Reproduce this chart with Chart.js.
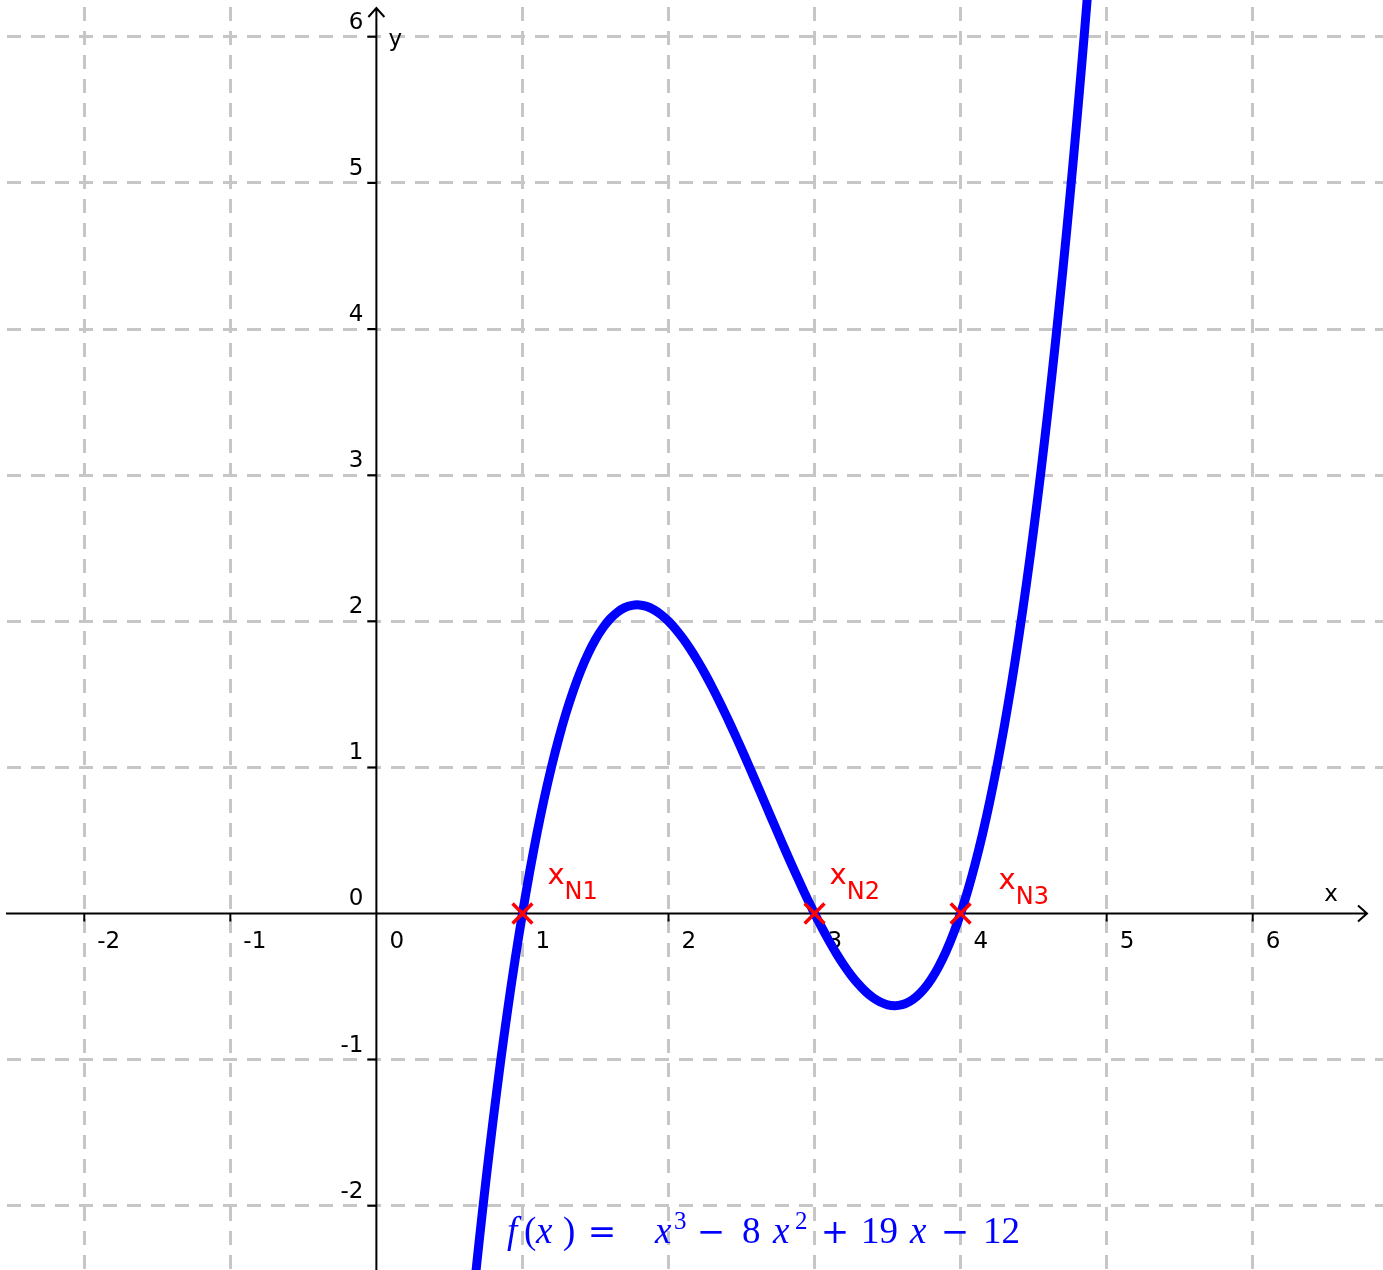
<!DOCTYPE html>
<html>
<head>
<meta charset="utf-8">
<script src="https://cdn.jsdelivr.net/npm/chart.js@4.4.0/dist/chart.umd.min.js"></script>
<style>
  html, body { margin: 0; padding: 0; background: #fff; }
  #wrap { position: relative; width: 1383px; height: 1270px; }
</style>
</head>
<body>
<div id="wrap"><canvas id="plot"></canvas></div>
<script>
const curveX = [0.6, 0.65, 0.7, 0.75, 0.8, 0.85, 0.9, 0.95, 1.0, 1.05, 1.1, 1.15, 1.2, 1.25,
  1.3, 1.35, 1.4, 1.45, 1.5, 1.55, 1.6, 1.65, 1.7, 1.75, 1.8, 1.85, 1.9, 1.95, 2.0, 2.05,
  2.1, 2.15, 2.2, 2.25, 2.3, 2.35, 2.4, 2.45, 2.5, 2.55, 2.6, 2.65, 2.7, 2.75, 2.8, 2.85,
  2.9, 2.95, 3.0, 3.05, 3.1, 3.15, 3.2, 3.25, 3.3, 3.35, 3.4, 3.45, 3.5, 3.55, 3.6, 3.65,
  3.7, 3.75, 3.8, 3.85, 3.9, 3.95, 4.0, 4.05, 4.1, 4.15, 4.2, 4.25, 4.3, 4.35, 4.4, 4.45,
  4.5, 4.55, 4.6, 4.65, 4.7, 4.75, 4.8, 4.85, 4.9];
const curveY = [-3.264, -2.755, -2.277, -1.828, -1.408, -1.016, -0.651, -0.313, 0, 0.288, 0.551, 0.791, 1.008, 1.203,
  1.377, 1.530, 1.664, 1.779, 1.875, 1.954, 2.016, 2.062, 2.093, 2.109, 2.112, 2.102, 2.079, 2.045, 2.000, 1.945,
  1.881, 1.808, 1.728, 1.641, 1.547, 1.448, 1.344, 1.236, 1.125, 1.011, 0.896, 0.780, 0.663, 0.547, 0.432, 0.319,
  0.209, 0.102, 0, -0.097, -0.189, -0.274, -0.352, -0.422, -0.483, -0.535, -0.576, -0.606, -0.625, -0.631, -0.624, -0.603,
  -0.567, -0.516, -0.448, -0.363, -0.261, -0.140, 0, 0.160, 0.341, 0.543, 0.768, 1.016, 1.287, 1.583, 1.904, 2.251,
  2.625, 3.026, 3.456, 3.915, 4.403, 4.922, 5.472, 6.054, 6.669];

// zeros of f, marked with red crosses
const roots = [1, 3, 4];
const rootNames = ["N1", "N2", "N3"];

const xTicks = [-2, -1, 0, 1, 2, 3, 4, 5, 6];
const yTicks = [-2, -1, 0, 1, 2, 3, 4, 5, 6];

// label placement (pixels from the cross)
const rootLabelShift = [[25, -29], [15, -29], [38, -24]];

// formula pieces: text, style (i italic, n normal, s superscript, o operator), x
const formula = [
  ["f", "i", 507], ["(", "n", 524], ["x", "i", 536], [")", "n", 563],
  ["=", "o", 602], ["x", "i", 655], ["3", "s", 674], ["\u2212", "o", 711],
  ["8", "n", 742], ["x", "i", 773], ["2", "s", 795], ["+", "o", 835],
  ["19", "n", 861], ["x", "i", 910], ["\u2212", "o", 955], ["12", "n", 983]
];

const gridColor = (c) => (c.tick && c.tick.value === 0 ? "rgba(0,0,0,0)" : "#c6c6c6");

const geoAxes = {
  id: "geoAxes",
  beforeDatasetsDraw(chart) {
    const { ctx, chartArea: a, scales: { x, y } } = chart;
    const ox = x.getPixelForValue(0);
    const oy = y.getPixelForValue(0);
    ctx.save();
    ctx.strokeStyle = "#000";
    ctx.lineWidth = 2;
    ctx.beginPath();
    // x axis with arrow
    ctx.moveTo(a.left + 6, oy);
    ctx.lineTo(a.right - 16, oy);
    ctx.moveTo(a.right - 25, oy - 8);
    ctx.lineTo(a.right - 16, oy);
    ctx.lineTo(a.right - 25, oy + 8);
    // y axis with arrow
    ctx.moveTo(ox, a.bottom);
    ctx.lineTo(ox, a.top + 8);
    ctx.moveTo(ox - 8, a.top + 17);
    ctx.lineTo(ox, a.top + 8);
    ctx.lineTo(ox + 8, a.top + 17);
    // tick marks
    xTicks.forEach((v) => {
      const px = x.getPixelForValue(v);
      ctx.moveTo(px, oy);
      ctx.lineTo(px, oy + 8);
    });
    yTicks.forEach((v) => {
      const py = y.getPixelForValue(v);
      ctx.moveTo(ox - 9, py);
      ctx.lineTo(ox, py);
    });
    ctx.stroke();

    ctx.fillStyle = "#000";
    ctx.font = '23px "DejaVu Sans"';
    ctx.textBaseline = "alphabetic";
    ctx.textAlign = "left";
    xTicks.forEach((v) => ctx.fillText(String(v), x.getPixelForValue(v) + 13, oy + 35));
    ctx.textAlign = "right";
    yTicks.forEach((v) => ctx.fillText(String(v), ox - 13, y.getPixelForValue(v) - 8));
    ctx.textAlign = "center";
    ctx.fillText("x", a.right - 52, oy - 12);
    ctx.textAlign = "left";
    ctx.fillText("y", ox + 12, a.top + 46);
    ctx.restore();
  },
  afterDatasetsDraw(chart) {
    const { ctx, scales: { x, y } } = chart;
    const oy = y.getPixelForValue(0);
    ctx.save();
    // root names
    ctx.fillStyle = "#ff0000";
    ctx.textAlign = "left";
    ctx.textBaseline = "alphabetic";
    roots.forEach((r, i) => {
      const px = x.getPixelForValue(r) + rootLabelShift[i][0];
      const py = oy + rootLabelShift[i][1];
      ctx.font = '29px "DejaVu Sans"';
      ctx.fillText("x", px, py);
      const w = ctx.measureText("x").width;
      ctx.font = '24px "DejaVu Sans"';
      ctx.fillText(rootNames[i], px + w, py + 15);
    });
    // function text
    ctx.fillStyle = "#0000ff";
    formula.forEach(([t, s, left]) => {
      ctx.textAlign = "left";
      if (s === "i") ctx.font = 'italic 37px "Liberation Serif"';
      else if (s === "s") ctx.font = '25px "Liberation Serif"';
      else if (s === "o") { ctx.font = '34px "DejaVu Serif"'; ctx.textAlign = "center"; }
      else ctx.font = '37px "Liberation Serif"';
      ctx.fillText(t, left, s === "s" ? 1229 : 1243);
    });
    ctx.restore();
  }
};

new Chart(document.getElementById("plot"), {
  type: "scatter",
  data: {
    datasets: [
      {
        data: roots.map((r) => ({ x: r, y: 0 })),
        pointStyle: "crossRot",
        pointRadius: 14,
        borderColor: "#ff0000",
        backgroundColor: "#ff0000",
        borderWidth: 3.5,
        order: 0,
      },
      {
        data: curveX.map((v, i) => ({ x: v, y: curveY[i] })),
        showLine: true,
        borderColor: "#0000ff",
        borderWidth: 9,
        pointRadius: 0,
        tension: 0.3,
        order: 1,
      },
    ],
  },
  options: {
    responsive: true,
    maintainAspectRatio: false,
    animation: false,
    events: [],
    layout: { padding: 0, autoPadding: false },
    plugins: { legend: { display: false }, tooltip: { enabled: false } },
    scales: {
      x: {
        type: "linear",
        min: -2.577,
        max: 6.892,
        afterBuildTicks: (s) => { s.ticks = xTicks.map((v) => ({ value: v })); },
        ticks: { display: false },
        grid: { color: gridColor, lineWidth: 3, drawTicks: false },
        border: { display: false, dash: [14, 10], dashOffset: 17 },
      },
      y: {
        type: "linear",
        min: -2.44,
        max: 6.252,
        afterBuildTicks: (s) => { s.ticks = yTicks.map((v) => ({ value: v })); },
        ticks: { display: false },
        grid: { color: gridColor, lineWidth: 3, drawTicks: false },
        border: { display: false, dash: [14, 10], dashOffset: 17 },
      },
    },
  },
  plugins: [geoAxes],
});
</script>
</body>
</html>
